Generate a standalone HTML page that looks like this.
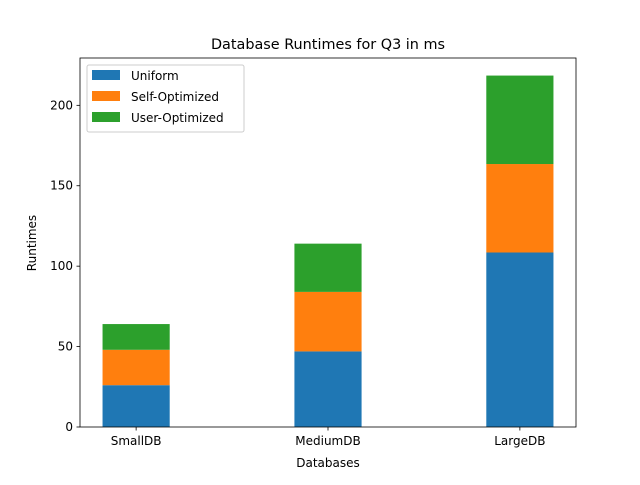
<!DOCTYPE html>
<html><head><meta charset="utf-8"><style>
body{margin:0;background:#fff}
svg{font-family:"DejaVu Sans","Liberation Sans",sans-serif}
</style></head><body>
<svg id="chart" width="640" height="480">
<rect x="0" y="0" width="640" height="480" fill="#fff"/>
<text x="328" y="49" font-size="14.4" text-anchor="middle">Database Runtimes for Q3 in ms</text>
<g id="bars"></g>
<g id="axes"></g>
<text x="328" y="467" font-size="12" text-anchor="middle">Databases</text>
<text transform="translate(36,243) rotate(-90)" font-size="12" text-anchor="middle">Runtimes</text>
<g id="legend">
<rect x="87" y="65" width="157" height="67" fill="#fff" fill-opacity="0.8" stroke="#ccc" rx="2"/>
</g>
</svg>
<script>
const categories=["SmallDB","MediumDB","LargeDB"];
const uniform=[26,47,108.5];
const selfOpt=[22,37,55];
const userOpt=[16,30,55];
const seriesNames=["Uniform","Self-Optimized","User-Optimized"];
const yTicks=[0,50,100,150,200];

const NS="http://www.w3.org/2000/svg";
const L=80,R=576,T=58,B=427;
const xmin=-0.2925,xmax=2.2925;
const tot=categories.map((c,i)=>uniform[i]+selfOpt[i]+userOpt[i]);
const ymax=Math.max(...tot)*1.05;
const xs=v=>L+(v-xmin)/(xmax-xmin)*(R-L);
const ys=v=>B-v/ymax*(B-T);
const colors=["#1f77b4","#ff7f0e","#2ca02c"];
const series=[uniform,selfOpt,userOpt];
function mk(t,a,p){const e=document.createElementNS(NS,t);for(const k in a)e.setAttribute(k,a[k]);p.appendChild(e);return e;}
const bars=document.getElementById('bars');
categories.forEach((c,i)=>{
  let base=0;
  series.forEach((s,j)=>{
    const r=mk('rect',{x:xs(i-0.175),width:xs(i+0.175)-xs(i-0.175),y:ys(base+s[i]),height:ys(base)-ys(base+s[i]),fill:colors[j]},bars);
    
    
    base+=s[i];
  });
});
const ax=document.getElementById('axes');
const frame=mk('rect',{x:L,y:T,width:R-L,height:B-T,fill:'none',stroke:'#000','stroke-width':0.8},ax);


yTicks.forEach(v=>{
  mk('line',{x1:L-3.5,x2:L,y1:ys(v),y2:ys(v),stroke:'#000','stroke-width':0.8},ax);
  const t=mk('text',{x:L-7,y:ys(v)+4,'font-size':12,'text-anchor':'end'},ax);
  t.textContent=v;
  
  
});
categories.forEach((c,i)=>{
  mk('line',{x1:xs(i),x2:xs(i),y1:B,y2:B+3.5,stroke:'#000','stroke-width':0.8},ax);
  const t=mk('text',{x:xs(i),y:B+18,'font-size':12,'text-anchor':'middle'},ax);
  t.textContent=c;
  
  
});
const lg=document.getElementById('legend');
seriesNames.forEach((n,j)=>{
  const y=70+j*21;
  mk('rect',{x:92,y:y,width:28,height:10,fill:colors[j]},lg);
  const t=mk('text',{x:131,y:y+10,'font-size':12},lg);
  t.textContent=n;
  
  
});
</script>
</body></html>
